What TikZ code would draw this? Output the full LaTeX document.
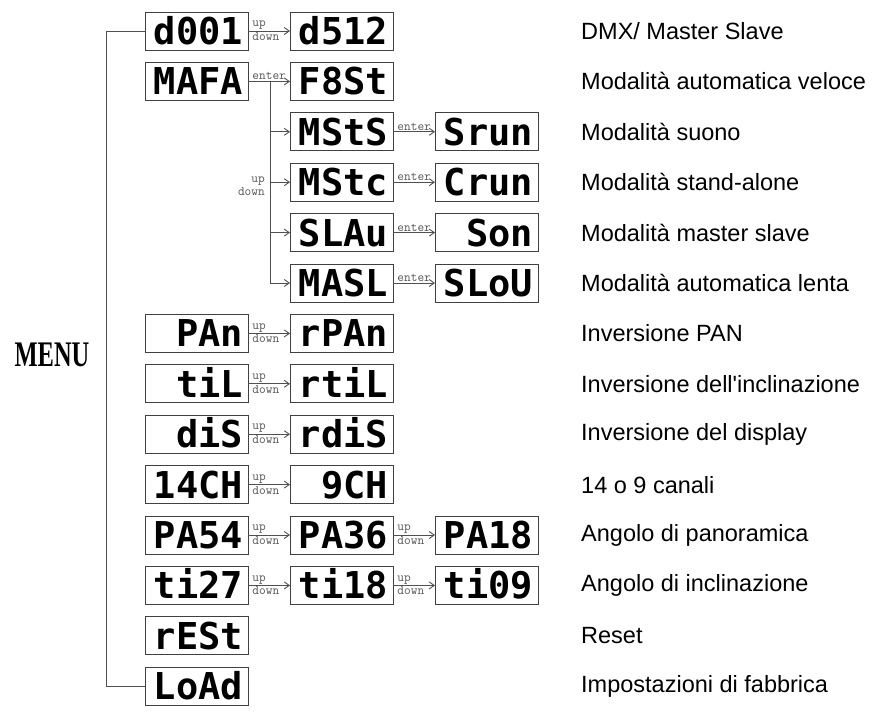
\documentclass[tikz,border=0pt]{standalone}
\usepackage{fontspec}
\setmainfont{Liberation Sans}[Ligatures=TeXOff]
\newfontfamily\segfont{DejaVu Sans Mono}
\newfontfamily\menufont{Liberation Serif}
\usepackage{tikz}
\usetikzlibrary{
  arrows.meta,
  positioning
}
\definecolor{WireGray}{HTML}{505050}
\definecolor{BoxGray}{HTML}{404040}
\definecolor{LabelGray}{HTML}{555555}
\tikzset{
  display/.style={
    draw=BoxGray,
    line width=0.9pt,
    inner xsep=5pt,
    inner ysep=0pt,
    outer sep=0pt,
    text width=93pt,
    align=right,
    minimum height=38pt,
    text height=27pt,
    text depth=0pt,
    font=\segfont\bfseries\fontsize{37}{37}\selectfont
  },
  wire/.style={
    draw=WireGray,
    line width=0.9pt
  },
  link/.style={
    wire,
    -{Straight Barb[length=5pt,width=7pt]}
  },
  key/.style={
    text=LabelGray,
    inner sep=1pt,
    font=\ttfamily\fontsize{13}{13}\selectfont
  },
  upkey/.style={
    key,
    pos=0,
    anchor=south west,
    xshift=3pt
  },
  downkey/.style={
    key,
    pos=0,
    anchor=north west,
    xshift=3pt
  },
  desc/.style={
    anchor=west,
    inner sep=0pt,
    font=\fontsize{23.5}{23.5}\selectfont
  }
}

\begin{document}
\begin{tikzpicture}[
  x=1pt,
  y=-1pt,
  node distance=12.4pt and 42pt
]
  \useasboundingbox (0,0) rectangle (875,712);

  \coordinate (brk) at (106,0);
  \coordinate (sub) at (270,0);
  \coordinate (tx) at (581,0);

  % first column
  \node[display] (d001) at (196.5,31) {d001};
  \node[display, below=of d001] (mafa) {MAFA};
  \node[display, below=214pt of mafa] (pan) {PAn};
  \node[display, below=of pan] (til) {tiL};
  \node[display, below=of til] (dis) {diS};
  \node[display, below=of dis] (ch14) {14CH};
  \node[display, below=of ch14] (pa54) {PA54};
  \node[display, below=of pa54] (ti27) {ti27};
  \node[display, below=of ti27] (reset) {rESt};
  \node[display, below=of reset] (load) {LoAd};

  % second column
  \node[display, right=of d001] (d512) {d512};
  \node[display, right=of mafa] (fast) {F8St};
  \node[display, below=of fast] (msts) {MStS};
  \node[display, below=of msts] (mstc) {MStc};
  \node[display, below=of mstc] (slau) {SLAu};
  \node[display, below=of slau] (masl) {MASL};
  \node[display, right=of pan] (rpan) {rPAn};
  \node[display, right=of til] (rtil) {rtiL};
  \node[display, right=of dis] (rdis) {rdiS};
  \node[display, right=of ch14] (ch9) {9CH};
  \node[display, right=of pa54] (pa36) {PA36};
  \node[display, right=of ti27] (ti18) {ti18};

  % third column
  \node[display, right=of msts] (srun) {Srun};
  \node[display, right=of mstc] (crun) {Crun};
  \node[display, right=of slau] (son) {Son};
  \node[display, right=of masl] (slou) {SLoU};
  \node[display, right=of pa36] (pa18) {PA18};
  \node[display, right=of ti18] (ti09) {ti09};

  \node[
    font=\menufont\bfseries\fontsize{36}{36}\selectfont,
    xscale=0.68,
    inner sep=0pt
  ] (menu) at (52,355) {MENU};

  % menu bracket
  \draw[wire]
  (d001.west) --
  (d001.west -| brk) --
  (load.west -| brk) --
  (load.west);

  % up / down steps
  \draw[link] (d001) -- node[upkey] {up} node[downkey] {down} (d512);
  \draw[link] (pan) -- node[upkey] {up} node[downkey] {down} (rpan);
  \draw[link] (til) -- node[upkey] {up} node[downkey] {down} (rtil);
  \draw[link] (dis) -- node[upkey] {up} node[downkey] {down} (rdis);
  \draw[link] (ch14) -- node[upkey] {up} node[downkey] {down} (ch9);
  \draw[link] (pa54) -- node[upkey] {up} node[downkey] {down} (pa36);
  \draw[link] (pa36) -- node[upkey] {up} node[downkey] {down} (pa18);
  \draw[link] (ti27) -- node[upkey] {up} node[downkey] {down} (ti18);
  \draw[link] (ti18) -- node[upkey] {up} node[downkey] {down} (ti09);

  % enter steps
  \draw[link] (mafa) -- node[upkey] {enter} (fast);
  \draw[link] (msts) -- node[upkey] {enter} (srun);
  \draw[link] (mstc) -- node[upkey] {enter} (crun);
  \draw[link] (slau) -- node[upkey] {enter} (son);
  \draw[link] (masl) -- node[upkey] {enter} (slou);

  % auto sub menu
  \draw[wire] (mafa.east -| sub) -- (masl.west -| sub);
  \foreach \n in {msts,mstc,slau,masl}
    \draw[link] (\n.west -| sub) -- (\n.west);
  \node[key, anchor=south east, xshift=-4pt, yshift=-4pt]
    at (mstc.west -| sub) {up};
  \node[key, anchor=north east, xshift=-4pt, yshift=-4pt]
    at (mstc.west -| sub) {down};

  % descriptions
  \node[desc] (t0) at (tx |- d001) {DMX/ Master Slave};
  \node[desc] (t1) at (tx |- mafa) {Modalità automatica veloce};
  \node[desc] (t2) at (tx |- msts) {Modalità suono};
  \node[desc] (t3) at (tx |- mstc) {Modalità stand-alone};
  \node[desc] (t4) at (tx |- slau) {Modalità master slave};
  \node[desc] (t5) at (tx |- masl) {Modalità automatica lenta};
  \node[desc] (t6) at (tx |- pan) {Inversione PAN};
  \node[desc] (t7) at (tx |- til) {Inversione dell'inclinazione};
  \node[desc] (t8) at (tx |- dis) {Inversione del display};
  \node[desc] (t9) at (tx |- ch14) {14 o 9 canali};
  \node[desc] (t10) at (tx |- pa54) {Angolo di panoramica};
  \node[desc] (t11) at (tx |- ti27) {Angolo di inclinazione};
  \node[desc] (t12) at (tx |- reset) {Reset};
  \node[desc] (t13) at (tx |- load) {Impostazioni di fabbrica};

\end{tikzpicture}
\end{document}
